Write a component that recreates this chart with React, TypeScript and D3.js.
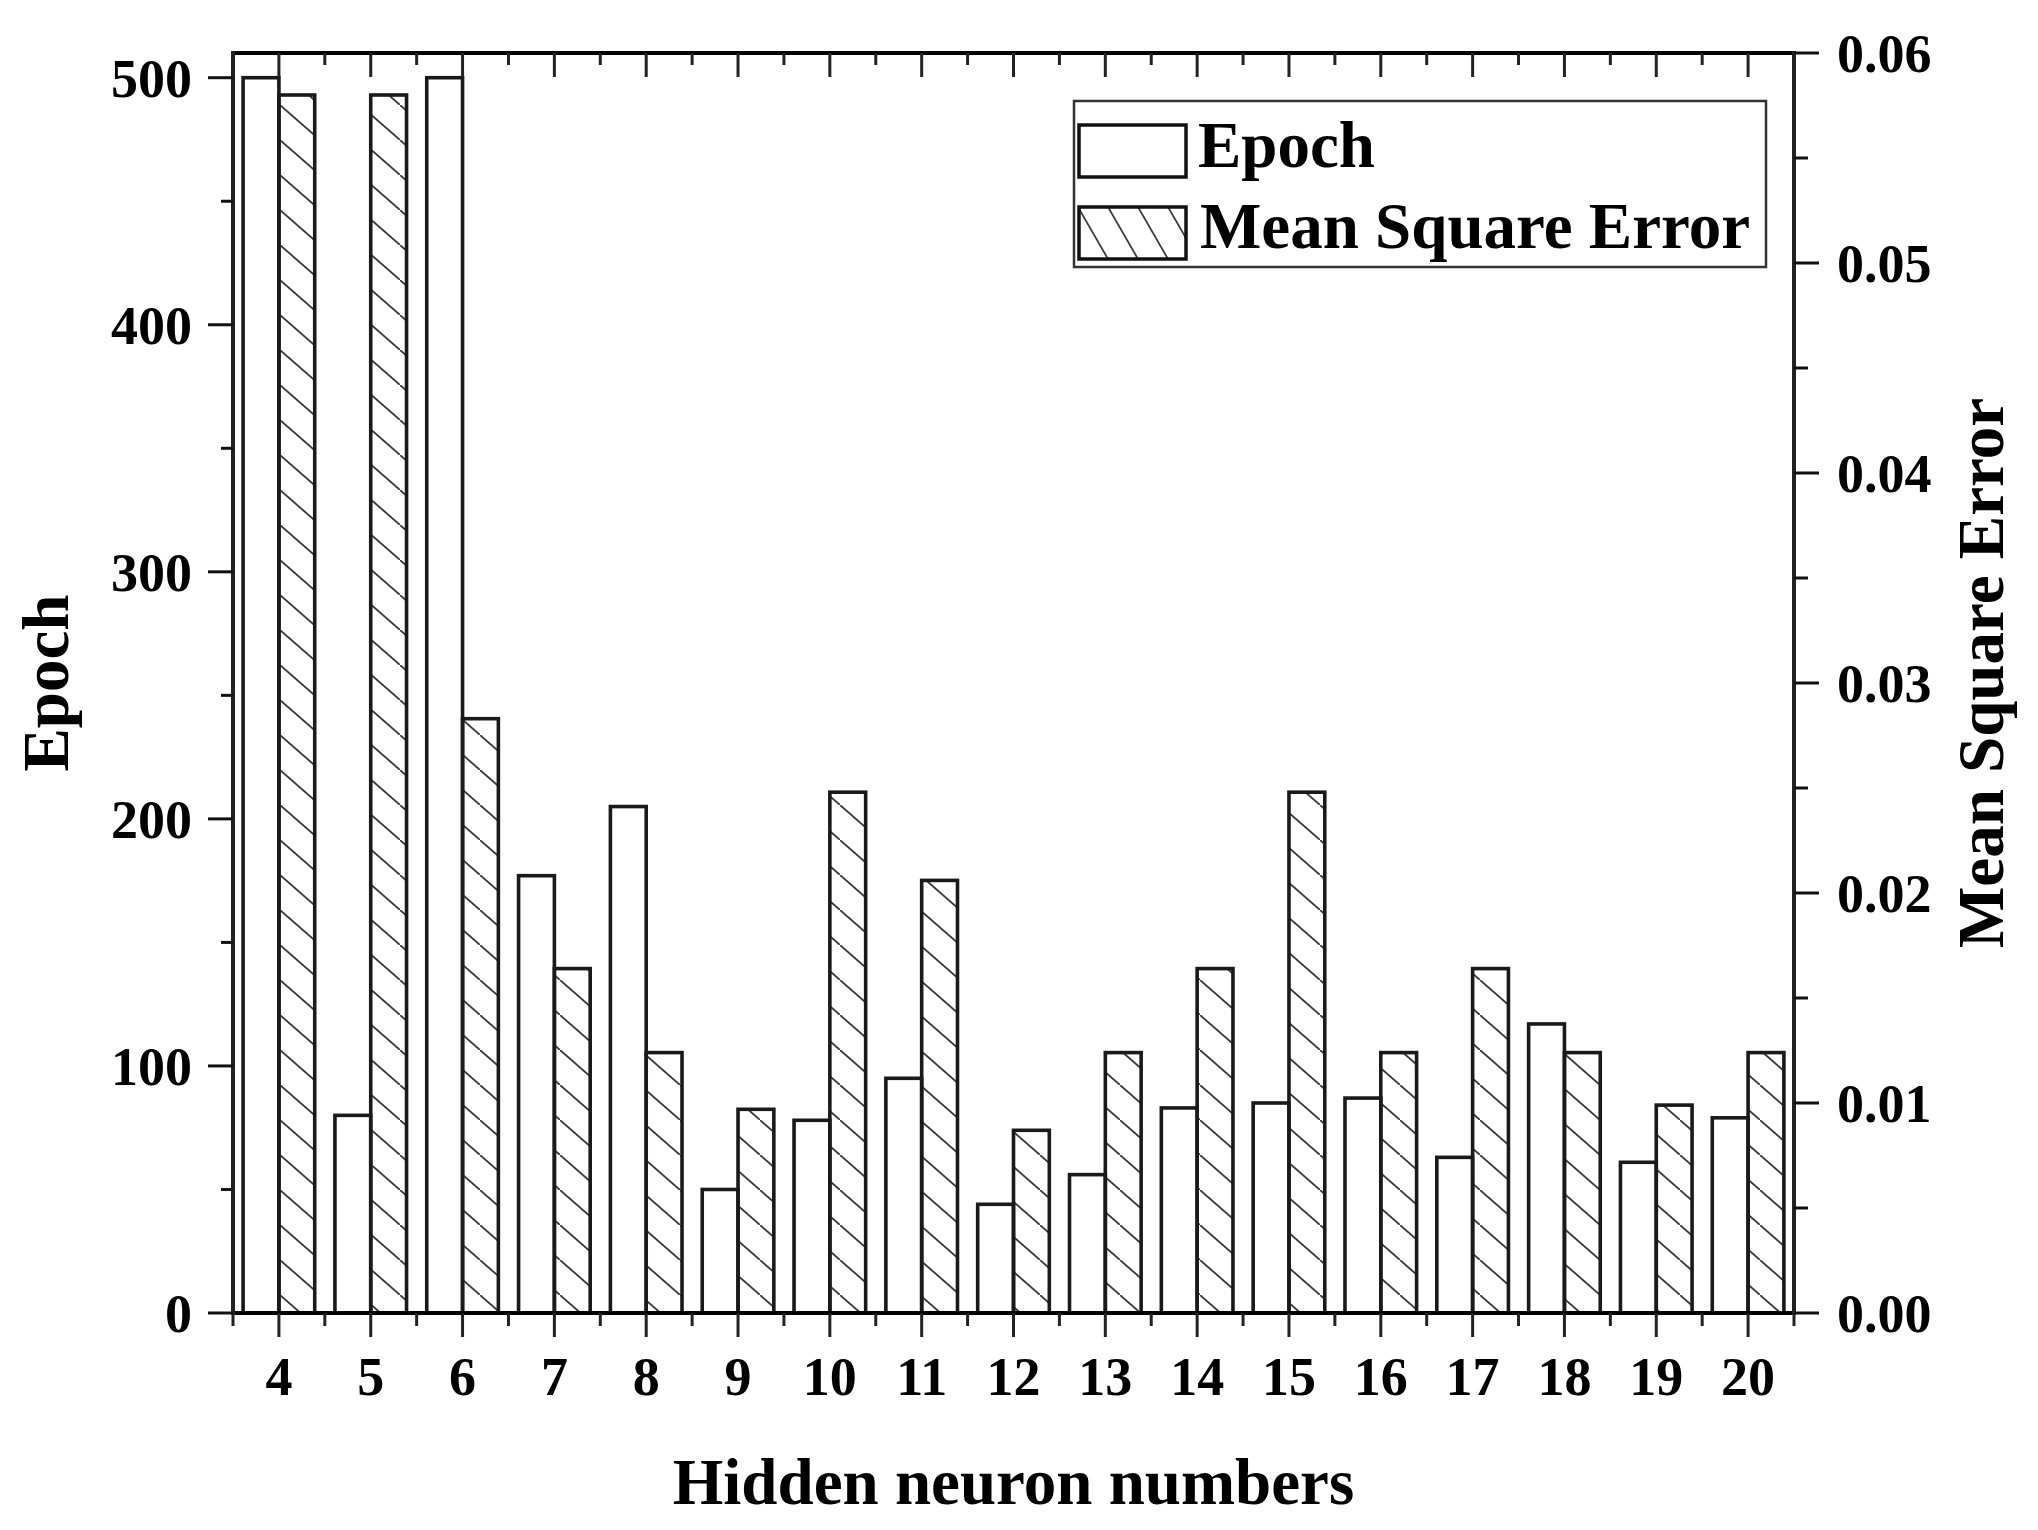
import React from "react";
import * as d3 from "d3";

const categories = [4, 5, 6, 7, 8, 9, 10, 11, 12, 13, 14, 15, 16, 17, 18, 19, 20];
const epochValues = [500, 80, 500, 177, 205, 50, 78, 95, 44, 56, 83, 85, 87, 63, 117, 61, 79];
const mseValues = [0.058, 0.058, 0.0283, 0.0164, 0.0124, 0.0097, 0.0248, 0.0206, 0.0087, 0.0124, 0.0164, 0.0248, 0.0124, 0.0164, 0.0124, 0.0099, 0.0124];
const leftTicks = [0, 100, 200, 300, 400, 500];
const leftMinor = [50, 150, 250, 350, 450];
const rightTicks = [0, 0.01, 0.02, 0.03, 0.04, 0.05, 0.06];
const rightMinor = [0.005, 0.015, 0.025, 0.035, 0.045, 0.055];
const seriesNames = ["Epoch", "Mean Square Error"];
const xTitle = "Hidden neuron numbers";
const yLeftTitle = "Epoch";
const yRightTitle = "Mean Square Error";

const W = 2038;
const H = 1530;
const L = 233, R = 1794, T = 53, B = 1313;
const FONT = "'Liberation Serif', 'Times New Roman', serif";

export default function App() {
  const x = d3.scaleLinear().domain([3.5, 20.5]).range([L, R]);
  const yL = d3.scaleLinear().domain([0, 510]).range([B, T]);
  const yR = d3.scaleLinear().domain([0, 0.06]).range([B, T]);
  const bw = 0.39; // bar width in category units
  const halfTicks = d3.range(3.5, 21, 1);

  return (
    <div style={{ position: "absolute", left: 0, top: 0 }}>
      <svg width={W} height={H} style={{ display: "block", background: "#fff" }}>
        <defs>
          <pattern id="hatch" patternUnits="userSpaceOnUse" width={40} height={35}>
            <line x1={0} y1={0} x2={40} y2={35} stroke="#3a3a3a" strokeWidth={1.8} />
          </pattern>
          <pattern id="hatchLeg" patternUnits="userSpaceOnUse" width={30} height={52} patternTransform="translate(1078,207)">
            <line x1={0} y1={0} x2={30} y2={52} stroke="#3a3a3a" strokeWidth={1.8} />
          </pattern>
        </defs>
        <rect x={0} y={0} width={W} height={H} fill="#fff" />

        {/* bars */}
        {categories.map((c, i) => (
          <g key={c}>
            <rect
              x={x(c - bw)}
              y={yL(epochValues[i])}
              width={x(c) - x(c - bw)}
              height={B - yL(epochValues[i])}
              fill="#fff"
              stroke="#1a1a1a"
              strokeWidth={3.6}
            />
            <rect
              x={x(c)}
              y={yR(mseValues[i])}
              width={x(c + bw) - x(c)}
              height={B - yR(mseValues[i])}
              fill="url(#hatch)"
              stroke="#1a1a1a"
              strokeWidth={3.6}
            />
          </g>
        ))}

        {/* frame */}
        <line x1={L} y1={T} x2={R} y2={T} stroke="#000" strokeWidth={4} />
        <line x1={L} y1={B} x2={R} y2={B} stroke="#000" strokeWidth={4} />
        <line x1={L} y1={T - 2} x2={L} y2={B + 2} stroke="#222" strokeWidth={4} />
        <line x1={R} y1={T - 2} x2={R} y2={B + 2} stroke="#222" strokeWidth={4} />

        {/* bottom & top ticks */}
        {categories.map((c) => (
          <g key={"xt" + c}>
            <line x1={x(c)} y1={B} x2={x(c)} y2={B + 24} stroke="#222" strokeWidth={3} />
            <line x1={x(c)} y1={T} x2={x(c)} y2={T + 24} stroke="#222" strokeWidth={3} />
            <text
              x={x(c)}
              y={1395}
              textAnchor="middle"
              fontFamily={FONT}
              fontWeight="bold"
              fontSize={54}
              fill="#000"
            >
              {c}
            </text>
          </g>
        ))}
        {halfTicks.map((h) => (
          <g key={"xh" + h}>
            <line x1={x(h)} y1={B} x2={x(h)} y2={B + 13} stroke="#222" strokeWidth={3} />
            <line x1={x(h)} y1={T} x2={x(h)} y2={T + 12} stroke="#222" strokeWidth={3} />
          </g>
        ))}

        {/* left axis ticks */}
        {leftTicks.map((v) => (
          <g key={"lt" + v}>
            <line x1={L - 25} y1={yL(v)} x2={L} y2={yL(v)} stroke="#111" strokeWidth={3} />
            <text
              x={192}
              y={yL(v)}
              dy="0.35em"
              textAnchor="end"
              fontFamily={FONT}
              fontWeight="bold"
              fontSize={54}
              fill="#000"
            >
              {v}
            </text>
          </g>
        ))}
        {leftMinor.map((v) => (
          <line key={"lm" + v} x1={L - 12} y1={yL(v)} x2={L} y2={yL(v)} stroke="#111" strokeWidth={3} />
        ))}

        {/* right axis ticks */}
        {rightTicks.map((v) => (
          <g key={"rt" + v}>
            <line x1={R} y1={yR(v)} x2={R + 25} y2={yR(v)} stroke="#111" strokeWidth={3} />
            <text
              x={1837}
              y={yR(v)}
              dy="0.35em"
              textAnchor="start"
              fontFamily={FONT}
              fontWeight="bold"
              fontSize={54}
              fill="#000"
            >
              {d3.format(".2f")(v)}
            </text>
          </g>
        ))}
        {rightMinor.map((v) => (
          <line key={"rm" + v} x1={R} y1={yR(v)} x2={R + 14} y2={yR(v)} stroke="#111" strokeWidth={3} />
        ))}

        {/* titles */}
        <text
          x={(L + R) / 2}
          y={1504}
          textAnchor="middle"
          fontFamily={FONT}
          fontWeight="bold"
          fontSize={65}
          fill="#000"
        >
          {xTitle}
        </text>
        <text
          transform={`translate(68, ${(T + B) / 2}) rotate(-90)`}
          textAnchor="middle"
          fontFamily={FONT}
          fontWeight="bold"
          fontSize={65}
          fill="#000"
        >
          {yLeftTitle}
        </text>
        <text
          transform={`translate(2003, ${(T + B) / 2 - 10}) rotate(-90)`}
          textAnchor="middle"
          fontFamily={FONT}
          fontWeight="bold"
          fontSize={65}
          fill="#000"
        >
          {yRightTitle}
        </text>

        {/* legend */}
        <rect x={1074} y={101} width={692} height={166} fill="#fff" stroke="#333" strokeWidth={2.5} />
        <rect x={1079} y={125} width={107} height={52} fill="#fff" stroke="#111" strokeWidth={3.5} />
        <rect x={1079} y={207} width={107} height={52} fill="url(#hatchLeg)" stroke="#111" strokeWidth={3.5} />
        <text x={1198} y={167} fontFamily={FONT} fontWeight="bold" fontSize={65} fill="#000">
          {seriesNames[0]}
        </text>
        <text x={1200} y={248} fontFamily={FONT} fontWeight="bold" fontSize={65} fill="#000">
          {seriesNames[1]}
        </text>
      </svg>
    </div>
  );
}
